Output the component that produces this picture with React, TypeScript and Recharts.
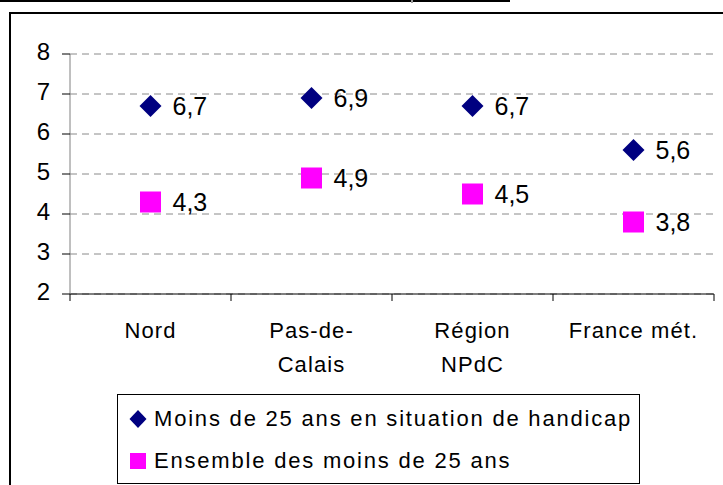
import React from "react";
import {
  ComposedChart,
  Scatter,
  XAxis,
  YAxis,
  CartesianGrid,
  Legend,
} from "recharts";

const categories = ["Nord", "Pas-de-\nCalais", "Région\nNPdC", "France mét."];
const handicap = [6.7, 6.9, 6.7, 5.6];
const ensemble = [4.3, 4.9, 4.5, 3.8];
const yTicks = [2, 3, 4, 5, 6, 7, 8];
const seriesNames = [
  "Moins de 25 ans en situation de handicap",
  "Ensemble des moins de 25 ans",
];

const data = categories.map((name, i) => ({
  name,
  handicap: handicap[i],
  ensemble: ensemble[i],
}));

const FONT = "'Liberation Sans', Arial, sans-serif";
const NAVY = "#000080";
const PINK = "#FF00FF";
const PLOT_W = 644;
const BAND = PLOT_W / categories.length;

const fmt = (v: number) => v.toFixed(1).replace(".", ",");

function markerLabel(cx: number, cy: number, v: number) {
  return (
    <text x={cx + 22} y={cy + 9} fontSize={25} fontFamily={FONT} fill="#000">
      {fmt(v)}
    </text>
  );
}

function DiamondShape(props: any) {
  const { cx, cy, payload } = props;
  const r = 11;
  return (
    <g>
      <polygon
        points={`${cx},${cy - r} ${cx + r},${cy} ${cx},${cy + r} ${cx - r},${cy}`}
        fill={NAVY}
      />
      {markerLabel(cx, cy, payload.handicap)}
    </g>
  );
}

function SquareShape(props: any) {
  const { cx, cy, payload } = props;
  const s = 21;
  return (
    <g>
      <rect x={cx - s / 2} y={cy - s / 2} width={s} height={s} fill={PINK} />
      {markerLabel(cx, cy, payload.ensemble)}
    </g>
  );
}

function CategoryTick(props: any) {
  const { x, y, payload, index } = props;
  const lines = String(payload.value).split("\n");
  return (
    <g>
      {index === 0 && (
        <line x1={x - BAND / 2} y1={y} x2={x - BAND / 2} y2={y + 7} stroke="#000" />
      )}
      <line x1={x + BAND / 2} y1={y} x2={x + BAND / 2} y2={y + 7} stroke="#000" />
      {lines.map((l, i) => (
        <text
          key={i}
          x={x}
          y={y + 44 + i * 34}
          textAnchor="middle"
          fontSize={22}
          letterSpacing={1.1}
          fontFamily={FONT}
          fill="#000"
        >
          {l}
        </text>
      ))}
    </g>
  );
}

function ValueTick(props: any) {
  const { x, y, payload } = props;
  return (
    <text
      x={x}
      y={y + 6}
      textAnchor="end"
      fontSize={24}
      fontFamily={FONT}
      fill="#000"
    >
      {payload.value}
    </text>
  );
}

function LegendBox() {
  return (
    <div
      style={{
        boxSizing: "border-box",
        width: "100%",
        height: "100%",
        border: "1px solid #000",
        background: "#fff",
        fontFamily: FONT,
        fontSize: 22,
        letterSpacing: 1.8,
        position: "relative",
      }}
    >
      {seriesNames.map((n, i) => (
        <div
          key={n}
          style={{
            position: "absolute",
            left: 0,
            top: 11 + i * 42,
            height: 26,
            display: "flex",
            alignItems: "center",
            whiteSpace: "nowrap",
          }}
        >
          <svg width={36} height={26}>
            {i === 0 ? (
              <polygon points="20,4 28.5,13 20,22 11.5,13" fill={NAVY} />
            ) : (
              <rect x={12} y={5} width={16} height={16} fill={PINK} />
            )}
          </svg>
          <span>{n}</span>
        </div>
      ))}
    </div>
  );
}

export default function App() {
  return (
    <div
      style={{
        position: "absolute",
        left: 0,
        top: 0,
        width: 723,
        height: 485,
        overflow: "hidden",
        background: "#fff",
      }}
    >
      <div style={{ position: "absolute", left: 0, top: 0, width: 510, height: 2, background: "#000" }} />
      <div style={{ position: "absolute", left: 411, top: 0, width: 2, height: 3, background: "#999" }} />
      <div
        style={{
          position: "absolute",
          left: 9,
          top: 12,
          width: 800,
          height: 600,
          borderLeft: "2px solid #000",
          borderTop: "2px solid #000",
        }}
      />
      <div style={{ position: "absolute", left: 0, top: 0 }}>
        <ComposedChart
          width={723}
          height={485}
          data={data}
          margin={{ top: 54, right: 9, bottom: 91, left: 0 }}
        >
          <CartesianGrid
            horizontal
            vertical={false}
            stroke="#8a8a8a"
            strokeDasharray="7 5"
          />
          <XAxis
            dataKey="name"
            type="category"
            height={100}
            padding={{ left: BAND / 2, right: BAND / 2 }}
            tickLine={false}
            tickSize={0}
            tickMargin={0}
            axisLine={{ stroke: "#000" }}
            tick={<CategoryTick />}
            interval={0}
          />
          <YAxis
            type="number"
            domain={[2, 8]}
            ticks={yTicks}
            width={70}
            tickSize={8}
            tickMargin={12}
            axisLine={{ stroke: "#808080" }}
            tickLine={{ stroke: "#000" }}
            tick={<ValueTick />}
            interval={0}
          />
          <Legend
            layout="vertical"
            align="center"
            verticalAlign="middle"
            wrapperStyle={{ left: 117, top: 394, width: 523, height: 90 }}
            content={() => <LegendBox />}
          />
          <Scatter
            name={seriesNames[0]}
            dataKey="handicap"
            shape={DiamondShape}
            isAnimationActive={false}
          />
          <Scatter
            name={seriesNames[1]}
            dataKey="ensemble"
            shape={SquareShape}
            isAnimationActive={false}
          />
        </ComposedChart>
      </div>
    </div>
  );
}
